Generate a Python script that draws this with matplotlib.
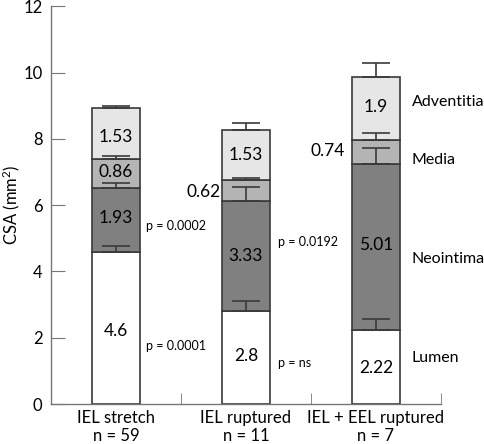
import matplotlib
matplotlib.use("Agg")
import matplotlib.pyplot as plt
import numpy as np

groups = ["IEL stretch\nn = 59", "IEL ruptured\nn = 11", "IEL + EEL ruptured\nn = 7"]
layers = ["Lumen", "Neointima", "Media", "Adventitia"]
lumen = [4.6, 2.8, 2.22]
neointima = [1.93, 3.33, 5.01]
media = [0.86, 0.62, 0.74]
adventitia = [1.53, 1.53, 1.9]
err_lumen = [0.17, 0.30, 0.34]
err_neointima = [0.15, 0.43, 0.50]
err_media = [0.09, 0.08, 0.21]
err_adventitia = [0.07, 0.21, 0.43]
p_labels_lower = ["p = 0.0001", "p = ns"]
p_labels_upper = ["p = 0.0002", "p = 0.0192"]

colors = ["#ffffff", "#808080", "#b4b4b4", "#e6e6e6"]
edge = "#3a3a3a"

plt.rcParams['font.family'] = ['Lato', 'DejaVu Sans']
plt.rcParams['mathtext.fontset'] = 'custom'
plt.rcParams['mathtext.rm'] = 'Lato'
plt.rcParams['mathtext.it'] = 'Lato'
fig = plt.figure(figsize=(4.84, 4.44), dpi=100)
ax = fig.add_axes([0.105, 0.09, 0.806, 0.896])

x = np.arange(3)
w = 0.37
series = [lumen, neointima, media, adventitia]
errs = [err_lumen, err_neointima, err_media, err_adventitia]
bottom = np.zeros(3)
tops = []
for vals, c in zip(series, colors):
    ax.bar(x, vals, w, bottom=bottom, color=c, edgecolor=edge, linewidth=1.2, zorder=2)
    bottom = bottom + np.array(vals)
    tops.append(bottom.copy())

for t, e in zip(tops, errs):
    ax.errorbar(x, t, yerr=[np.zeros(3), e], fmt='none', ecolor=edge,
                elinewidth=1.2, capsize=10, capthick=1.2, zorder=3)

fs = 12.5
ax.text(0, 2.2, "4.6", ha='center', va='center', fontsize=fs)
ax.text(0, 5.6, "1.93", ha='center', va='center', fontsize=fs)
ax.text(0, 7.0, "0.86", ha='center', va='center', fontsize=fs)
ax.text(0, 8.07, "1.53", ha='center', va='center', fontsize=fs)
ax.text(1, 1.45, "2.8", ha='center', va='center', fontsize=fs)
ax.text(1, 4.47, "3.33", ha='center', va='center', fontsize=fs)
ax.text(1 - w/2 - 0.01, 6.4, "0.62", ha='right', va='center', fontsize=fs)
ax.text(1, 7.5, "1.53", ha='center', va='center', fontsize=fs)
ax.text(2, 1.09, "2.22", ha='center', va='center', fontsize=fs)
ax.text(2, 4.8, "5.01", ha='center', va='center', fontsize=fs)
ax.text(2 - w/2 - 0.05, 7.64, "0.74", ha='right', va='center', fontsize=fs)
ax.text(2, 8.97, "1.9", ha='center', va='center', fontsize=fs)

pfs = 9
ax.text(0 + w/2 + 0.05, 5.38, p_labels_upper[0], ha='left', va='center', fontsize=pfs)
ax.text(0 + w/2 + 0.05, 1.75, p_labels_lower[0], ha='left', va='center', fontsize=pfs)
ax.text(1 + w/2 + 0.06, 4.9, p_labels_upper[1], ha='left', va='center', fontsize=pfs)
ax.text(1 + w/2 + 0.06, 1.24, p_labels_lower[1], ha='left', va='center', fontsize=pfs)

lab_y = [1.39, 4.38, 7.37, 9.12]
for name, yy in zip(layers, lab_y):
    ax.text(2 + w/2 + 0.09, yy, name, ha='left', va='center', fontsize=11.5)

ax.set_xlim(-0.5, 2.5)
ax.set_ylim(0, 12)
ax.set_yticks(np.arange(0, 13, 2))
ax.set_xticks(x)
ax.set_xticklabels(groups, fontsize=12, linespacing=1.15)
ax.set_xticks([0.5, 1.5, 2.5], minor=True)
ax.tick_params(axis='x', which='major', length=0, pad=4)
ax.tick_params(axis='x', which='minor', direction='in', length=8, color='#777777')
ax.tick_params(axis='y', direction='in', length=10, labelsize=12, color='#777777', pad=6)
ax.set_ylabel("CSA (mm$^2$)", fontsize=12)
ax.yaxis.set_label_coords(-0.075, 0.5)
for s in ['top', 'right']:
    ax.spines[s].set_visible(False)
for s in ['left', 'bottom']:
    ax.spines[s].set_color('#777777')
    ax.spines[s].set_linewidth(1.0)

fig.savefig("out.png", dpi=100)
